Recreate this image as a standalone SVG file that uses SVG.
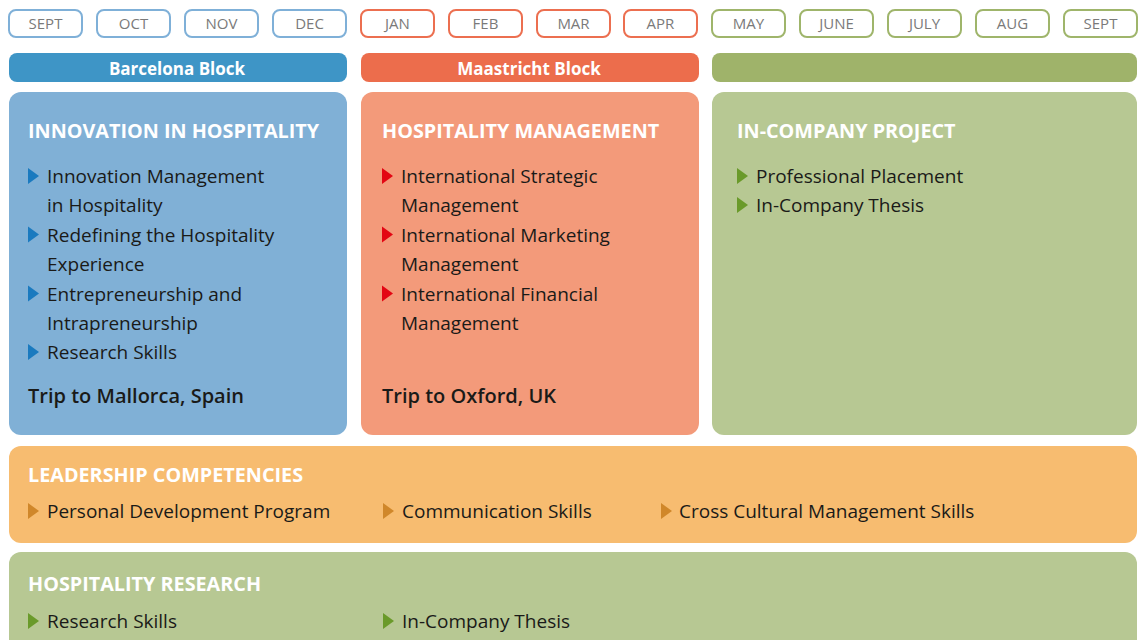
<svg xmlns="http://www.w3.org/2000/svg" width="1143" height="640" viewBox="0 0 1143 640">
  <style>
    .month rect { fill: #ffffff; stroke-width: 2; }
    .month text { font-family: "Open Sans", "Liberation Sans", sans-serif; font-size: 15px; fill: #7a7a7a; text-anchor: middle; }
    .blue rect { stroke: #7fb0d8; }
    .red rect { stroke: #ec6f50; }
    .green rect { stroke: #9fb56b; }
    .bar text { font-family: "Open Sans", "Liberation Sans", sans-serif; font-size: 17px; font-weight: bold; fill: #ffffff; text-anchor: middle; }
    .head { font-family: "Open Sans", "Liberation Sans", sans-serif; font-size: 19.8px; font-weight: bold; fill: #ffffff; }
    .item { font-family: "Open Sans", "Liberation Sans", sans-serif; font-size: 19px; fill: #1a1a18; }
    .trip { font-family: "Open Sans", "Liberation Sans", sans-serif; font-size: 20px; font-weight: 600; fill: #1a1a18; }
  </style>
  <defs>
    <path id="tri" d="M0,-15 L11,-7 L0,1 Z"/>
  </defs>

  <!-- month timeline -->
  <g id="months">
    <g class="month blue"><rect x="9" y="10" width="73" height="27" rx="7"/><text x="45.5" y="29">SEPT</text></g>
    <g class="month blue"><rect x="97" y="10" width="73" height="27" rx="7"/><text x="133.5" y="29">OCT</text></g>
    <g class="month blue"><rect x="185" y="10" width="73" height="27" rx="7"/><text x="221.5" y="29">NOV</text></g>
    <g class="month blue"><rect x="273" y="10" width="73" height="27" rx="7"/><text x="309.5" y="29">DEC</text></g>
    <g class="month red"><rect x="361" y="10" width="73" height="27" rx="7"/><text x="397.5" y="29">JAN</text></g>
    <g class="month red"><rect x="449" y="10" width="73" height="27" rx="7"/><text x="485.5" y="29">FEB</text></g>
    <g class="month red"><rect x="537" y="10" width="73" height="27" rx="7"/><text x="573.5" y="29">MAR</text></g>
    <g class="month red"><rect x="624" y="10" width="73" height="27" rx="7"/><text x="660.5" y="29">APR</text></g>
    <g class="month green"><rect x="712" y="10" width="73" height="27" rx="7"/><text x="748.5" y="29">MAY</text></g>
    <g class="month green"><rect x="800" y="10" width="73" height="27" rx="7"/><text x="836.5" y="29">JUNE</text></g>
    <g class="month green"><rect x="888" y="10" width="73" height="27" rx="7"/><text x="924.5" y="29">JULY</text></g>
    <g class="month green"><rect x="976" y="10" width="73" height="27" rx="7"/><text x="1012.5" y="29">AUG</text></g>
    <g class="month green"><rect x="1064" y="10" width="73" height="27" rx="7"/><text x="1100.5" y="29">SEPT</text></g>
  </g>

  <!-- block bars -->
  <g id="barcelona-bar" class="bar">
    <rect x="9" y="53" width="338" height="29" rx="8" fill="#3e95c6"/>
    <text x="177" y="75">Barcelona Block</text>
  </g>
  <g id="maastricht-bar" class="bar">
    <rect x="361" y="53" width="338" height="29" rx="8" fill="#ec6d4c"/>
    <text x="529" y="75">Maastricht Block</text>
  </g>
  <g id="project-bar" class="bar">
    <rect x="712" y="53" width="425" height="29" rx="8" fill="#9fb36a"/>
  </g>

  <!-- Innovation in Hospitality -->
  <g id="innovation">
    <rect x="9" y="92" width="338" height="343" rx="12" fill="#80b0d6"/>
    <text class="head" x="28" y="138">INNOVATION IN HOSPITALITY</text>
    <g fill="#1a7abf">
      <use href="#tri" x="28" y="183"/>
      <use href="#tri" x="28" y="241.5"/>
      <use href="#tri" x="28" y="300.5"/>
      <use href="#tri" x="28" y="359"/>
    </g>
    <text class="item" x="47" y="183">Innovation Management</text>
    <text class="item" x="47" y="212">in Hospitality</text>
    <text class="item" x="47" y="241.5">Redefining the Hospitality</text>
    <text class="item" x="47" y="271">Experience</text>
    <text class="item" x="47" y="300.5">Entrepreneurship and</text>
    <text class="item" x="47" y="329.5">Intrapreneurship</text>
    <text class="item" x="47" y="359">Research Skills</text>
    <text class="trip" x="28" y="403">Trip to Mallorca, Spain</text>
  </g>

  <!-- Hospitality Management -->
  <g id="management">
    <rect x="361" y="92" width="338" height="343" rx="12" fill="#f39a7a"/>
    <text class="head" x="382" y="138">HOSPITALITY MANAGEMENT</text>
    <g fill="#e30613">
      <use href="#tri" x="382" y="183"/>
      <use href="#tri" x="382" y="241.5"/>
      <use href="#tri" x="382" y="300.5"/>
    </g>
    <text class="item" x="401" y="183">International Strategic</text>
    <text class="item" x="401" y="212">Management</text>
    <text class="item" x="401" y="241.5">International Marketing</text>
    <text class="item" x="401" y="271">Management</text>
    <text class="item" x="401" y="300.5">International Financial</text>
    <text class="item" x="401" y="329.5">Management</text>
    <text class="trip" x="382" y="403">Trip to Oxford, UK</text>
  </g>

  <!-- In-Company Project -->
  <g id="project">
    <rect x="712" y="92" width="425" height="343" rx="12" fill="#b7c893"/>
    <text class="head" x="737" y="138">IN-COMPANY PROJECT</text>
    <g fill="#6a9a2a">
      <use href="#tri" x="737" y="183"/>
      <use href="#tri" x="737" y="212"/>
    </g>
    <text class="item" x="756" y="183">Professional Placement</text>
    <text class="item" x="756" y="212">In-Company Thesis</text>
  </g>

  <!-- Leadership Competencies -->
  <g id="leadership">
    <rect x="9" y="446" width="1128" height="97" rx="12" fill="#f7bc70"/>
    <text class="head" x="28" y="482">LEADERSHIP COMPETENCIES</text>
    <g fill="#d0872a">
      <use href="#tri" x="28" y="518"/>
      <use href="#tri" x="383" y="518"/>
      <use href="#tri" x="661" y="518"/>
    </g>
    <text class="item" x="47" y="518">Personal Development Program</text>
    <text class="item" x="402" y="518">Communication Skills</text>
    <text class="item" x="679" y="518">Cross Cultural Management Skills</text>
  </g>

  <!-- Hospitality Research -->
  <g id="research">
    <rect x="9" y="552" width="1128" height="110" rx="12" fill="#b7c893"/>
    <text class="head" x="28" y="591">HOSPITALITY RESEARCH</text>
    <g fill="#6a9a2a">
      <use href="#tri" x="28" y="628"/>
      <use href="#tri" x="383" y="628"/>
    </g>
    <text class="item" x="47" y="628">Research Skills</text>
    <text class="item" x="402" y="628">In-Company Thesis</text>
  </g>
</svg>
